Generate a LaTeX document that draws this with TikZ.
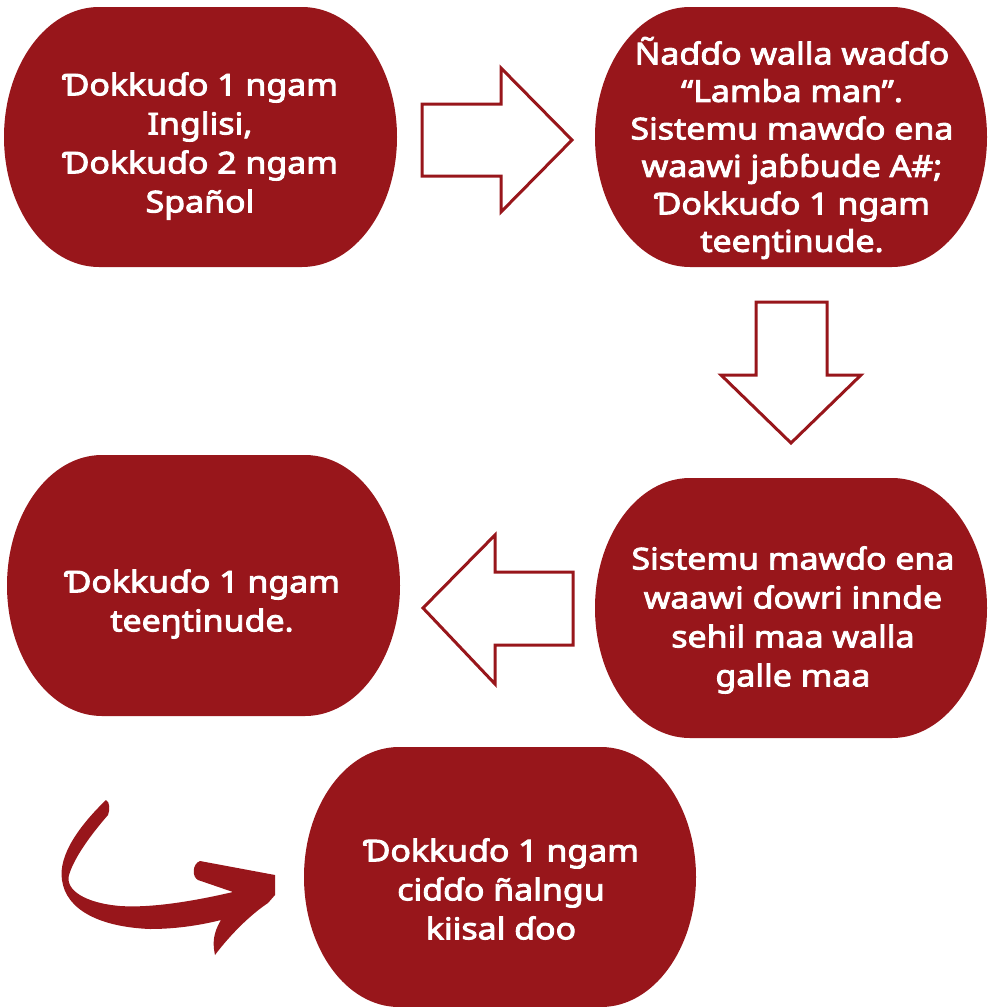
\documentclass[tikz,border=0pt]{standalone}
\usepackage{fontspec}
\setmainfont{Noto Sans}
\newfontfamily\boxfont{Noto Sans}[FakeBold=3, FakeStretch=1.13]
\definecolor{brick}{RGB}{152,22,27}
\tikzset{
  boxfill/.style={fill=brick},
  boxtext/.style={text=white, align=center, font=\boxfont\fontsize{30}{39}\selectfont, inner sep=0pt},
  blockarrow/.style={draw=brick, line width=3pt, fill=white, line join=miter},
}
\newcommand\pillshape[4]{%
  \fill[boxfill] (#1+95,#2) -- (#3-95,#2)
    arc[start angle=90, end angle=-90, x radius=95pt, y radius={(#4-#2)/2*1pt}]
    -- (#1+95,#4)
    arc[start angle=270, end angle=90, x radius=95pt, y radius={(#4-#2)/2*1pt}]
    -- cycle;}
\begin{document}
\begin{tikzpicture}[x=1pt,y=-1pt]
\useasboundingbox (0,0) rectangle (988,1007);
% boxes
\pillshape{4}{7}{397}{267}
\pillshape{595}{7}{987}{267}
\pillshape{595}{478}{987}{738}
\pillshape{7}{455}{400}{716}
\pillshape{304}{747}{696}{1007}
\node[boxtext] (b1) at (200,146) {Ɗokkuɗo 1 ngam\\Inglisi,\\Ɗokkuɗo 2 ngam\\Spañol};
\node[boxtext, font=\boxfont\fontsize{30}{37.5}\selectfont] (b2) at (792,148) {Ñaɗɗo walla waɗɗo\\“Lamba man”.\\Sistemu mawɗo ena\\waawi jaɓɓude A\#;\\Ɗokkuɗo 1 ngam\\teeŋtinude.};
\node[boxtext] (b3) at (793,620) {Sistemu mawɗo ena\\waawi ɗowri innde\\sehil maa walla\\galle maa};
\node[boxtext] (b4) at (202,604) {Ɗokkuɗo 1 ngam\\teeŋtinude.};
\node[boxtext] (b5) at (501,889) {Ɗokkuɗo 1 ngam\\ciɗɗo ñalngu\\kiisal ɗoo};
% block arrows
\draw[blockarrow] (422,104) -- (501,104) -- (501,68) -- (572,140) -- (501,212) -- (501,176) -- (422,176) -- cycle;
\draw[blockarrow] (756,302) -- (827,302) -- (827,375) -- (861,375) -- (791,443) -- (721,375) -- (756,375) -- cycle;
\draw[blockarrow] (573,572) -- (495,572) -- (495,535) -- (423,608) -- (495,684) -- (495,645) -- (573,645) -- cycle;
% curved arrow
\fill[brick] (106,800) .. controls (80,825) and (58,855) .. (62,880)
 .. controls (66,910) and (100,927) .. (150,929)
 .. controls (180,929) and (205,924) .. (221,920)
 .. controls (212,935) and (213,945) .. (215,955)
 .. controls (230,935) and (250,915) .. (268,903)
 -- (275,895) -- (275,875) -- (200,861)
 .. controls (192,864) and (192,877) .. (198,880)
 -- (233,892)
 .. controls (190,902) and (150,908) .. (120,906)
 .. controls (85,903) and (65,890) .. (69,875)
 .. controls (75,855) and (95,830) .. (108,815)
 .. controls (110,810) and (110,802) .. (106,800) -- cycle;
\end{tikzpicture}
\end{document}
